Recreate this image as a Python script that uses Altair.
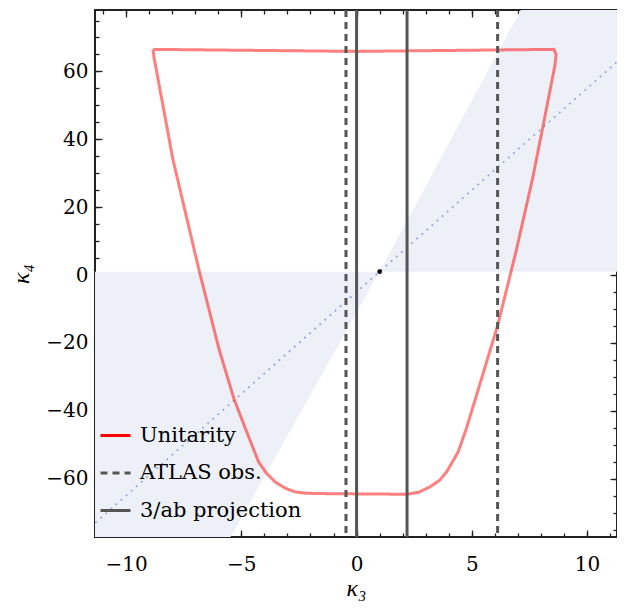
import altair as alt
import pandas as pd

# ---------------- data ----------------
# Unitarity boundary (closed curve, drawn in order)
unit_k3 = [-8.83, -8.80, -7.97, -6.85, -5.97, -5.32, -4.82, -4.25, -3.90, -3.53, -3.10, -2.67, -2.20, -1.67,
           0.00, 2.19, 2.70, 3.19, 3.60, 3.91, 4.41, 4.76, 5.33, 6.12, 6.91, 7.63, 8.12, 8.60, 8.66, 8.56,
           0.00, -8.83]
unit_k4 = [66.5, 64.5, 34.1, 1.8, -21.8, -36.5, -45.3, -55.1, -58.5, -61.0, -62.8, -63.9, -64.3, -64.4,
           -64.5, -64.6, -64.0, -62.4, -60.5, -58.0, -52.1, -45.3, -32.6, -14.9, 6.7, 28.2, 44.9, 61.6, 65.0, 66.5,
           65.9, 66.5]

# vertical constraint lines
line_k3 = [-0.46, 6.12, 0.0, 2.19]
line_series = ["ATLAS obs.", "ATLAS obs.", "3/ab projection", "3/ab projection"]

series_names = ["Unitarity", "ATLAS obs.", "3/ab projection"]
series_colors = ["#ff0000", "#555555", "#555555"]
series_dash = [[1, 0], [7, 5], [1, 0]]

# shaded wedges (bow-tie through the SM point)
wedge_k4 = [-77.2, 1.0, 1.0, 78.1]
wedge_left = [-11.35, -11.35, 1.0, 7.12]
wedge_right = [-5.47, 1.0, 11.3, 11.3]
wedge_id = ["low", "low", "high", "high"]

# dotted diagonal
diag_k3 = [-12.0, 12.0]
diag_k4 = [-77.0, 67.0]

# SM point
sm_k3 = [1.0]
sm_k4 = [1.0]

# axis ticks
x_major = [-10, -5, 0, 5, 10]
x_minor = list(range(-11, 12))
y_major = [-60, -40, -20, 0, 20, 40, 60]
y_minor = list(range(-75, 80, 5))

x_domain = [-11.35, 11.3]
y_domain = [-77.2, 78.1]

FONT = "DejaVu Serif"
TFONT = "Liberation Serif"
W, H = 522, 527

# ---------------- frames ----------------
unit_df = pd.DataFrame({"k3": unit_k3, "k4": unit_k4, "series": "Unitarity",
                        "order": list(range(len(unit_k3)))})
rule_df = pd.DataFrame({"k3": line_k3, "series": line_series})
wedge_df = pd.DataFrame({"k4": wedge_k4, "xl": wedge_left, "xr": wedge_right, "w": wedge_id})
diag_df = pd.DataFrame({"k3": diag_k3, "k4": diag_k4})
sm_df = pd.DataFrame({"k3": sm_k3, "k4": sm_k4})
carrier_df = pd.DataFrame({"k3": [0.0], "k4": [0.0]})

xs = alt.Scale(domain=x_domain, nice=False, zero=False)
ys = alt.Scale(domain=y_domain, nice=False, zero=False)

legend = alt.Legend(title=None, orient="none", legendX=4, legendY=409, symbolType="stroke",
                    symbolSize=900, symbolStrokeWidth=3, symbolOpacity=1, labelFont=FONT, labelFontSize=21,
                    labelColor="black", labelOffset=8, labelLimit=400, rowPadding=10.5, padding=0)
color_enc = alt.Color("series:N", scale=alt.Scale(domain=series_names, range=series_colors), legend=legend)
dash_enc = alt.StrokeDash("series:N", scale=alt.Scale(domain=series_names, range=series_dash), legend=legend)

wedges = alt.Chart(wedge_df).mark_area(orient="horizontal", color="#edf0f7", opacity=1).encode(
    y=alt.Y("k4:Q", scale=ys, axis=None),
    x=alt.X("xl:Q", scale=xs, axis=None),
    x2="xr:Q",
    detail="w:N",
)

diag = alt.Chart(diag_df).mark_line(color="#8ea7d8", strokeWidth=1.8, strokeDash=[1.8, 5], clip=True).encode(
    x=alt.X("k3:Q", scale=xs, axis=None),
    y=alt.Y("k4:Q", scale=ys, axis=None),
)

unit = alt.Chart(unit_df).mark_line(strokeWidth=3, opacity=0.5).encode(
    x=alt.X("k3:Q", scale=xs, axis=None),
    y=alt.Y("k4:Q", scale=ys, axis=None),
    order="order:Q",
    color=color_enc,
    strokeDash=dash_enc,
)

rules = alt.Chart(rule_df).mark_rule(strokeWidth=3).encode(
    x=alt.X("k3:Q", scale=xs, axis=None),
    color=color_enc,
    strokeDash=dash_enc,
)

sm = alt.Chart(sm_df).mark_point(filled=True, color="black", size=22, opacity=1).encode(
    x=alt.X("k3:Q", scale=xs, axis=None),
    y=alt.Y("k4:Q", scale=ys, axis=None),
)


def carrier(xaxis, yaxis):
    return alt.Chart(carrier_df).mark_point(opacity=0).encode(
        x=alt.X("k3:Q", scale=xs, axis=xaxis),
        y=alt.Y("k4:Q", scale=ys, axis=yaxis),
    )


common = dict(domain=False, grid=False, tickColor="#222222", tickWidth=1.3, labelFont=FONT,
              labelFontSize=20, labelColor="black", labelFlush=False, labelOverlap=False)

c1 = carrier(
    alt.Axis(orient="bottom", values=x_major, tickSize=7, offset=-7, labelPadding=17, format="d",
             title="κ₃", titleFont=TFONT, titleFontStyle="italic", titleFontWeight="normal",
             titleFontSize=24, titleColor="black", titleX=W / 2, titleY=58, titleBaseline="middle",
             titleAlign="center", **common),
    alt.Axis(orient="left", values=y_major, tickSize=7, offset=-7, labelPadding=7, format="d",
             title="κ₄", titleFont=TFONT, titleFontStyle="italic", titleFontWeight="normal",
             titleFontSize=24, titleColor="black", titleX=-81, titleY=H / 2, titleBaseline="middle",
             titleAlign="center", titleAngle=270, **common),
)
c2 = carrier(
    alt.Axis(orient="bottom", values=x_minor, tickSize=4, offset=-4, labels=False, title=None, **common),
    alt.Axis(orient="left", values=y_minor, tickSize=4, offset=-4, labels=False, title=None, **common),
)
c3 = carrier(
    alt.Axis(orient="top", values=x_major, tickSize=7, offset=-7, labels=False, title=None, **common),
    alt.Axis(orient="right", values=y_major, tickSize=7, offset=-7, labels=False, title=None, **common),
)
c4 = carrier(
    alt.Axis(orient="top", values=x_minor, tickSize=4, offset=-4, labels=False, title=None, **common),
    alt.Axis(orient="right", values=y_minor, tickSize=4, offset=-4, labels=False, title=None, **common),
)

chart = alt.layer(wedges, diag, unit, rules, sm, c1, c2, c3, c4).resolve_axis(
    x="independent", y="independent"
).properties(
    width=W, height=H,
    autosize=alt.AutoSizeParams(type="none"),
    padding={"left": 87, "top": 2, "right": 0, "bottom": 67},
).configure_view(stroke="#222222", strokeWidth=2)

chart.save("out.html", embed_options={"renderer": "svg", "actions": False})
